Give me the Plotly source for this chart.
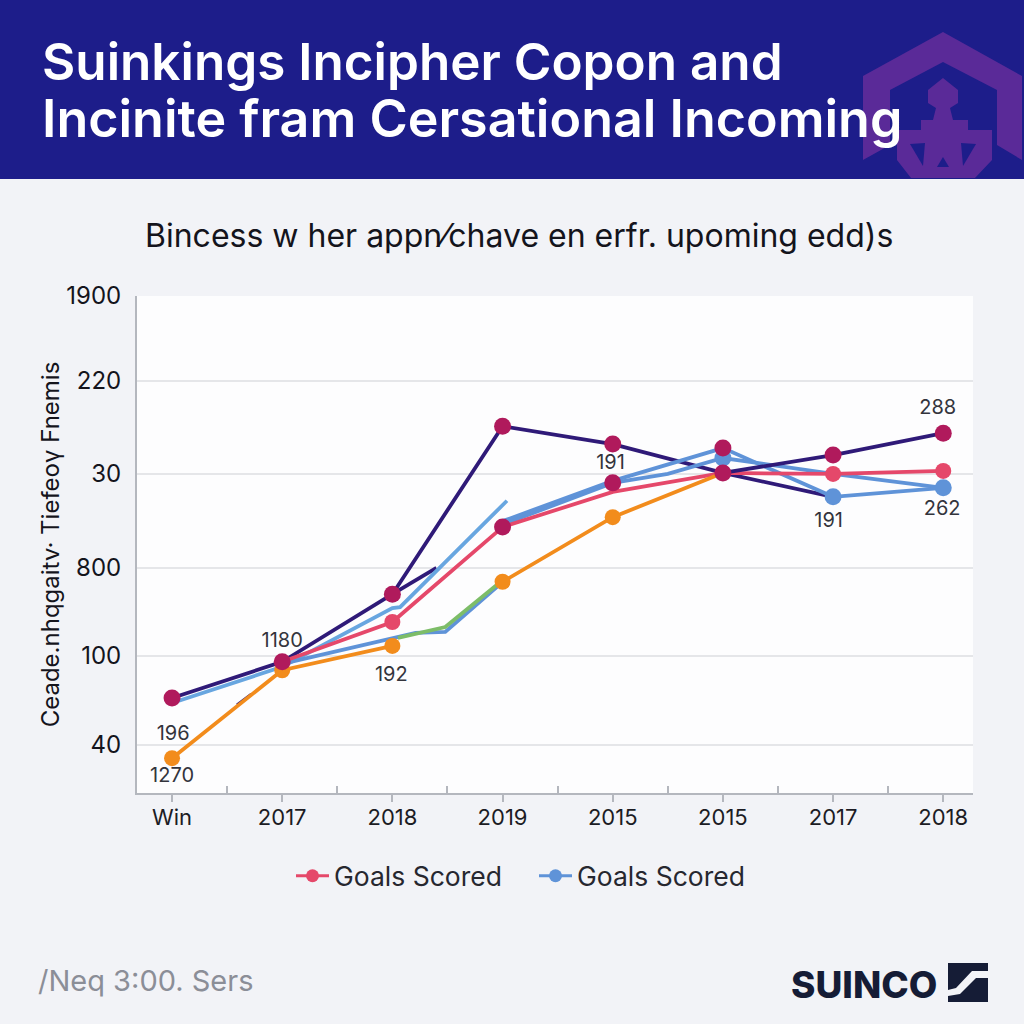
import plotly.graph_objects as go

# ---- data ----
x_labels = ["Win", "2017", "2018", "2019", "2015", "2015", "2017", "2018"]
x_pos = [0, 1, 2, 3, 4, 5, 6, 7]
y_labels = ["40", "100", "800", "30", "220", "1900"]
y_ticks = [9.7, 27.6, 45.3, 64.2, 82.9, 100]

navy_a_x = [0, 1, 2, 3, 4, 5, 6]
navy_a_y = [19.1, 26.4, 40.0, 73.8, 70.2, 64.4, 59.6]
navy_b_x = [5, 6, 7]
navy_b_y = [64.4, 68.0, 72.4]
navy_stub_x = [2, 2.4]
navy_stub_y = [40.0, 45.3]
navy_low_x = [0.59, 0.72]
navy_low_y = [17.7, 19.9]

sky_x = [0, 1, 2, 2.07, 3.04]
sky_y = [18.1, 25.4, 37.2, 37.4, 58.8]
low_blue_x = [1, 2, 2.21, 2.48, 2.95]
low_blue_y = [26.0, 31.2, 32.2, 32.4, 41.5]
green_x = [2.05, 2.48, 2.95]
green_y = [31.2, 33.4, 41.9]
blue_top_x = [3, 4, 5, 6, 7]
blue_top_y = [54.7, 62.8, 69.4, 59.6, 61.4]
blue_mid_x = [3, 4, 4.5, 5, 6, 7]
blue_mid_y = [54.0, 62.4, 64.2, 67.4, 64.2, 61.4]

red_x = [1, 2, 3, 4, 5, 6, 7]
red_y = [26.4, 34.4, 53.5, 60.6, 64.4, 64.2, 64.8]
orange_x = [0, 1, 2, None, 3, 4, 5]
orange_y = [7.0, 24.7, 29.6, None, 42.5, 55.5, 64.4]

crimson_x = [0, 1, 2, 3, 4, 5, 6, 7, 3, 4, 5]
crimson_y = [19.1, 26.4, 40.0, 73.8, 70.2, 64.4, 68.0, 72.4, 53.5, 62.4, 69.4]
red_marker_x = [2, 6, 7]
red_marker_y = [34.4, 64.2, 64.8]
orange_marker_x = [0, 1, 2, 3, 4]
orange_marker_y = [7.0, 24.7, 29.6, 42.5, 55.5]
blue_marker_x = [5, 6, 7]
blue_marker_y = [67.4, 59.6, 61.4]

label_text = ["1180", "192", "196", "1270", "191", "288", "262", "191"]
label_x = [1, 1.99, 0.01, 0, 3.98, 6.95, 6.99, 5.96]
label_y = [30.4, 23.5, 11.7, 3.3, 66.2, 77.3, 57.0, 54.6]

title_lines = ["Suinkings Incipher Copon and", "Incinite fram Cersational Incoming"]
subtitle = "Bincess w her appn⁄chave en erfr. upoming edd)s"
y_title = "Ceade.nhqgaitv· Tiefeoγ Fnemis"
legend_name = "Goals Scored"
footer_left = "/Neq 3:00. Sers"
footer_brand = "SUINCO"

# ---- colours ----
NAVY, CRIMSON, RED, BLUE, SKY, ORANGE, GREEN = (
    "#2f1a78", "#b01a5c", "#e5486a", "#5f93d8", "#68a6e0", "#f28c1c", "#7dbd68")
BG = "#f2f3f7"
HEADER = "#1d1d8a"
PURPLE = "#5a2a98"

# plot-area geometry
L, R, T, B = 137, 973, 296, 793
def px(v): return (v - L) / (R - L)
def py(v): return (B - v) / (B - T)

def poly(points, color):
    path = "M " + " L ".join(f"{px(a):.5f},{py(b):.5f}" for a, b in points) + " Z"
    return dict(type="path", xref="paper", yref="paper", path=path,
                fillcolor=color, line=dict(width=0), layer="below")

def note(text, x, y, size, color, family="Inter", weight=None, anchor="left"):
    f = dict(size=size, color=color, family=family)
    if weight:
        f["weight"] = weight
    return dict(text=text, xref="paper", yref="paper", x=px(x), y=py(y), xanchor=anchor,
                yanchor="middle", showarrow=False, font=f)

fig = go.Figure()

def line(xs, ys, color, width=3.8):
    fig.add_trace(go.Scatter(x=xs, y=ys, mode="lines", line=dict(color=color, width=width),
                             showlegend=False, hoverinfo="skip"))

def dots(xs, ys, color, size):
    fig.add_trace(go.Scatter(x=xs, y=ys, mode="markers", marker=dict(color=color, size=size),
                             showlegend=False, hoverinfo="skip"))

line(navy_low_x, navy_low_y, NAVY, 3)
line(navy_stub_x, navy_stub_y, NAVY)
line(navy_a_x, navy_a_y, NAVY)
line(blue_mid_x, blue_mid_y, BLUE)
line(sky_x, sky_y, SKY)
line(low_blue_x, low_blue_y, BLUE)
line(green_x, green_y, GREEN)
line(blue_top_x, blue_top_y, BLUE)
line(red_x, red_y, RED)
line(orange_x, orange_y, ORANGE)
line(navy_b_x, navy_b_y, NAVY)
dots(orange_marker_x, orange_marker_y, ORANGE, 16)
dots(red_marker_x, red_marker_y, RED, 16)
dots(blue_marker_x, blue_marker_y, BLUE, 17)
dots(crimson_x, crimson_y, CRIMSON, 17)

# legend-only entries
for color in (RED, BLUE):
    fig.add_trace(go.Scatter(x=[None], y=[None], mode="lines+markers", name=legend_name,
                             line=dict(color=color, width=3), marker=dict(color=color, size=13),
                             hoverinfo="skip"))

fig.add_trace(go.Scatter(x=label_x, y=label_y, mode="text", text=label_text,
                         textfont=dict(size=20, color="#33343c", family="Inter"),
                         showlegend=False, hoverinfo="skip"))

shapes = [
    dict(type="rect", xref="paper", yref="paper", x0=px(0), x1=px(1024), y0=py(0), y1=py(179),
         fillcolor=HEADER, line=dict(width=0), layer="below"),
    poly([(863, 76), (943, 32), (1022, 76), (1022, 160), (997, 145), (997, 90), (943, 62),
          (890, 90), (890, 145), (863, 160)], PURPLE),
    poly([(943, 78), (958, 90), (958, 103), (950, 108), (953, 120), (968, 120), (968, 130),
          (992, 130), (992, 160), (975, 178), (911, 178), (897, 160), (897, 130), (921, 130),
          (921, 120), (933, 120), (936, 108), (928, 103), (928, 90)], PURPLE),
    poly([(910, 144), (925, 143), (923, 166)], HEADER),
    poly([(976, 144), (961, 143), (963, 166)], HEADER),
    poly([(943, 157), (949, 167), (937, 167)], HEADER),
    poly([(948, 963), (988, 963), (988, 971), (972, 971), (956, 988), (948, 990)], "#151c36"),
    poly([(988, 978), (988, 1002), (948, 1002), (948, 996), (960, 994), (976, 978)], "#151c36"),
]

annotations = [
    note(title_lines[0], 40, 61, 51.2, "white", weight=600),
    note(title_lines[1], 40, 118, 52, "white", weight=600),
    note(subtitle, 519, 235, 32, "#14141c", anchor="center"),
    note(footer_left, 36, 980, 29, "#8b8e97"),
    note(footer_brand, 789, 985, 37, "#151c36", weight=800),
]

fig.update_layout(
    width=1024, height=1024, autosize=False,
    margin=dict(l=L, r=1024 - R, t=T, b=1024 - B),
    paper_bgcolor=BG, plot_bgcolor="#fdfdfe",
    font=dict(family="Inter", color="#14141c"),
    shapes=shapes, annotations=annotations,
    legend=dict(orientation="h", x=px(291), y=py(876), xanchor="left", yanchor="middle",
                font=dict(size=26.5, color="#26272f"), itemwidth=33, entrywidth=195,
                bgcolor="rgba(0,0,0,0)", tracegroupgap=0),
    xaxis=dict(range=[-0.318, 7.27], tickmode="array", tickvals=x_pos, ticktext=x_labels,
               showgrid=False, zeroline=False, showline=True, linecolor="#b4b7be", linewidth=2,
               ticks="outside", ticklen=7, tickcolor="#b4b7be", tickwidth=1.5,
               ticklabelstandoff=-3, tickfont=dict(size=22, color="#1c1c24"),
               minor=dict(tickmode="array", tickvals=[0.5, 1.5, 2.5, 3.5, 4.5, 5.5, 6.5],
                          ticks="inside", ticklen=7, tickcolor="#b4b7be", tickwidth=1.5,
                          showgrid=False)),
    yaxis=dict(range=[0, 100], tickmode="array", tickvals=y_ticks, ticktext=y_labels,
               showgrid=True, gridcolor="#e5e6e9", gridwidth=2, zeroline=False,
               showline=True, linecolor="#b4b7be", linewidth=2, ticks="",
               ticklabelstandoff=9, tickfont=dict(size=24, color="#14141c"),
               title=dict(text=y_title, font=dict(size=24, color="#14141c"), standoff=0)),
)

fig.write_html("out.html", config=dict(displayModeBar=False),
               post_script="document.body.style.margin='0';document.body.style.background='#f2f3f7';")
